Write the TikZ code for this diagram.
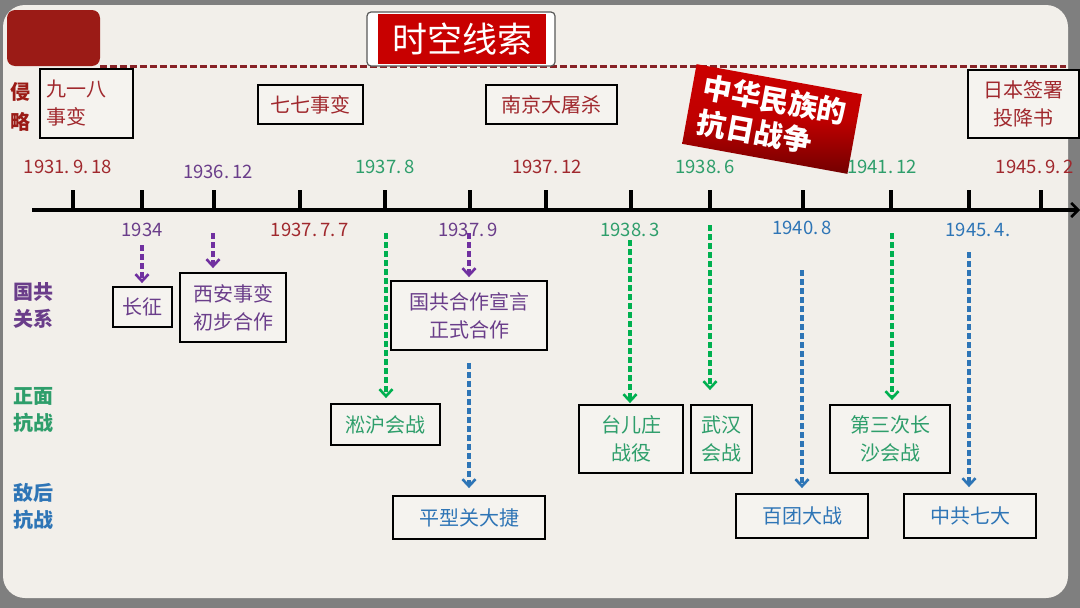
\documentclass[tikz,border=0pt]{standalone}
\usepackage{fontspec}
\setmainfont{Noto Sans CJK SC}
\usetikzlibrary{arrows.meta}
\definecolor{frame}{HTML}{7F7F7F}
\definecolor{panel}{HTML}{F2EFEA}
\definecolor{boxfill}{HTML}{F5F3EF}
\definecolor{dred}{HTML}{9B1B16}
\definecolor{tred}{HTML}{A0282D}
\definecolor{titred}{HTML}{C80000}
\definecolor{tpur}{HTML}{6A3D8A}
\definecolor{apur}{HTML}{7030A0}
\definecolor{tgrn}{HTML}{2E9E6B}
\definecolor{agrn}{HTML}{00B050}
\definecolor{tblu}{HTML}{2E75B6}
\definecolor{ablu}{HTML}{2E75B6}
\tikzset{
  evbox/.style={draw=black, line width=1.8pt, fill=boxfill, inner sep=0pt, align=center,
    font=\fontsize{20}{28}\selectfont},
  cat/.style={font=\bfseries\fontsize{20}{27}\selectfont, align=left, inner sep=0pt},
  date/.style={font=\fontsize{18.5}{20}\selectfont, inner sep=0pt},
  link/.style={dash pattern=on 6pt off 3pt, line width=3.2pt, -{Straight Barb[length=7pt,width=13pt,line width=2.6pt]}},
}
\begin{document}
\begin{tikzpicture}[x=1pt,y=-1pt]
\useasboundingbox (0,0) rectangle (1080,608);
% background
\fill[frame] (0,0) rectangle (1080,608);
\fill[panel, rounded corners=22pt] (3,5) rectangle (1068,598);
\fill[dred, rounded corners=8pt] (7,10) rectangle (100,66);
\coordinate (dl) at (100,66);
\coordinate (dr) at (1066,66);
\draw[tred!85!black, line width=3pt, dash pattern=on 7pt off 3pt] (dl) -- (dr);
% title
\node[fill=white, draw=gray!70!black, line width=1.2pt, rounded corners=4pt, minimum width=188pt, minimum height=54pt] (tbg) at (461,39) {};
\node[fill=titred, minimum width=168pt, minimum height=50pt, inner sep=0pt, text=white, font=\fontsize{35}{40}\selectfont] (title) at (462,39) {时空线索};
% category labels
\node[cat, text=dred, font=\bfseries\fontsize{20}{30}\selectfont] (c1) at (20,107) {侵\\略};
\node[cat, text=tpur] (c2) at (33,305) {国共\\关系};
\node[cat, text=tgrn] (c3) at (33,410) {正面\\抗战};
\node[cat, text=tblu] (c4) at (33,506) {敌后\\抗战};
% invasion boxes
\node[evbox, text=tred, minimum width=93pt, minimum height=69pt, align=left, text width=80pt] (e918) at (86.5,103.5) {九一八\\事变};
\node[evbox, text=tred, minimum width=105pt, minimum height=39pt] (e77) at (310.5,104.5) {七七事变};
\node[evbox, text=tred, minimum width=131pt, minimum height=39pt] (enj) at (551.5,104.5) {南京大屠杀};
\node[evbox, text=tred, minimum width=111pt, minimum height=68pt] (ejp) at (1023.5,104) {日本签署\\投降书};
% big red label
\node[rotate=-10.3, minimum width=168pt, minimum height=81pt, top color=red!80!black, bottom color=red!45!black, middle color=red!75!black, inner sep=0pt] (big) at (772,119) {};
\node[rotate=-10.3, text=white, font=\bfseries\fontsize{29}{35}\selectfont, align=left, inner sep=0pt] (bigt) at (772,117) {中华民族的\\抗日战争};
% axis
\coordinate (a0) at (32,210);
\coordinate (a1) at (1080,210);
\draw[line width=3.5pt, -{Straight Barb[length=7pt,width=14pt,line width=2.5pt]}] (a0) -- (a1);
\foreach \x in {73,142,214,300,385,470,546,631,710,803,891,969,1041}
  \draw[line width=3.2pt] (\x,190) -- (\x,210);
% dates above
\node[date, text=tred] (d1) at (68,167) {1931.\,9.\,18};
\node[date, text=tpur] (d2) at (218,172) {1936.\,12};
\node[date, text=tgrn] (d3) at (385,167) {1937.\,8};
\node[date, text=tred] (d4) at (547,167) {1937.\,12};
\node[date, text=tgrn] (d5) at (705,167) {1938.\,6};
\node[date, text=tgrn] (d6) at (882,167) {1941.\,12};
\node[date, text=tred] (d7) at (1035,167) {1945.\,9.\,2};
% dates below
\node[date, text=tpur] (b1) at (142,230) {1934};
\node[date, text=tred] (b2) at (310,230) {1937.\,7.\,7};
\node[date, text=tpur] (b3) at (468,230) {1937.\,9};
\node[date, text=tgrn] (b4) at (630,230) {1938.\,3};
\node[date, text=tblu] (b5) at (802,228) {1940.\,8};
\node[date, text=tblu] (b6) at (978,230) {1945.\,4.};
% relation boxes
\node[evbox, text=tpur, minimum width=59pt, minimum height=40pt] (cz) at (142.5,307) {长征};
\node[evbox, text=tpur, minimum width=106pt, minimum height=69pt] (xa) at (233,307.5) {西安事变\\初步合作};
\node[evbox, text=tpur, minimum width=156pt, minimum height=69pt] (gg) at (469,315.5) {国共合作宣言\\正式合作};
% front battles
\node[evbox, text=tgrn, minimum width=109pt, minimum height=41pt] (sh) at (385.5,424.5) {淞沪会战};
\node[evbox, text=tgrn, minimum width=104pt, minimum height=68pt] (tez) at (631,439) {台儿庄\\战役};
\node[evbox, text=tgrn, minimum width=61pt, minimum height=68pt] (wh) at (721.5,439) {武汉\\会战};
\node[evbox, text=tgrn, minimum width=120pt, minimum height=68pt] (cs) at (890,439) {第三次长\\沙会战};
% rear battles
\node[evbox, text=tblu, minimum width=152pt, minimum height=43pt] (pxg) at (469,517.5) {平型关大捷};
\node[evbox, text=tblu, minimum width=132pt, minimum height=44pt] (bt) at (802,516) {百团大战};
\node[evbox, text=tblu, minimum width=132pt, minimum height=44pt] (qd) at (970,516) {中共七大};
% arrow starts
\coordinate (s1) at (142,245);
\coordinate (s2) at (213,233);
\coordinate (s3) at (469,233);
\coordinate (s4) at (386,233);
\coordinate (s5) at (630,240);
\coordinate (s6) at (710,225);
\coordinate (s7) at (892,233);
\coordinate (s8) at (802,270);
\coordinate (s9) at (969,252);
\draw[link, apur, shorten >=3pt] (s1) -- (s1 |- cz.north);
\draw[link, apur, shorten >=4pt] (s2) -- (s2 |- xa.north);
\draw[link, apur, shorten >=3pt] (s3) -- (s3 |- gg.north);
\draw[link, agrn, shorten >=5pt] (s4) -- (s4 |- sh.north);
\draw[link, agrn, shorten >=1pt] (s5) -- (s5 |- tez.north);
\draw[link, agrn, shorten >=14pt] (s6) -- (s6 |- wh.north);
\draw[link, agrn, shorten >=4pt] (s7) -- (s7 |- cs.north);
\draw[link, ablu, shorten <=12pt, shorten >=7pt] (gg.south) -- (pxg.north);
\draw[link, ablu, shorten >=5pt] (s8) -- (s8 |- bt.north);
\draw[link, ablu, shorten >=6pt] (s9) -- (s9 |- qd.north);
\end{tikzpicture}
\end{document}
